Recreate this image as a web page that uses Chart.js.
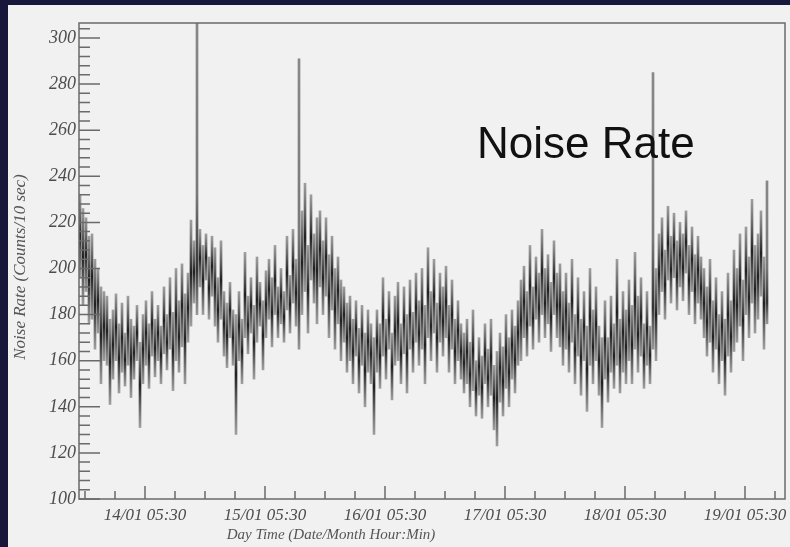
<!DOCTYPE html>
<html>
<head>
<meta charset="utf-8">
<script src="https://cdn.jsdelivr.net/npm/chart.js@4.4.1/dist/chart.umd.min.js"></script>
<style>
  html, body { margin: 0; padding: 0; background: #17173c; }
</style>
</head>
<body>
<canvas id="noiseChart" width="790" height="547"></canvas>
<script>
// hours are counted from 13/01 00:00, one bin every 36 min
const startHour = 16.5;
const binHours = 0.6;

// [low, high] extent of the error bars in each bin (counts / 10 sec)
const rateRanges = [
  [196, 232], [184, 226], [190, 222], [176, 214],
  [178, 215], [165, 204], [172, 200], [150, 192], [160, 190],
  [158, 188], [141, 178], [152, 182], [160, 189], [146, 176], [155, 185], [149, 172],
  [158, 188], [144, 178], [152, 175], [160, 184], [131, 168], [150, 180],
  [158, 186], [148, 176], [162, 190], [153, 178], [160, 184], [150, 175], [163, 192],
  [156, 180], [165, 196], [147, 181], [160, 200], [155, 186], [166, 202], [150, 189], [168, 198],
  [175, 221], [185, 212], [180, 310],
  [192, 217], [180, 210], [195, 215], [178, 205], [188, 214],
  [175, 209], [168, 196], [178, 212], [162, 190], [157, 185], [170, 194], [158, 182], [128, 180],
  [160, 190], [150, 178], [170, 207], [163, 188], [172, 196], [152, 184], [168, 205], [175, 194],
  [156, 186], [170, 199],
  [178, 204], [166, 196], [180, 210], [170, 192], [176, 200], [168, 190], [182, 214], [172, 197],
  [185, 217], [175, 204],
  [165, 291],
  [180, 225], [190, 237], [172, 210], [195, 232], [185, 215], [176, 222],
  [192, 225], [180, 212], [188, 222], [170, 206], [182, 214], [165, 200], [176, 205], [160, 195],
  [168, 192], [155, 185], [160, 188], [150, 178], [162, 186], [146, 174], [158, 184], [140, 172],
  [155, 182], [150, 176], [128, 170],
  [155, 182], [148, 176], [162, 196], [152, 178], [165, 190], [143, 172], [158, 188], [160, 194],
  [150, 176], [163, 192], [146, 180], [165, 195], [155, 181], [168, 198], [158, 186],
  [165, 200], [150, 184], [170, 209], [160, 190], [172, 204], [155, 185], [168, 198], [162, 192],
  [170, 201], [155, 184], [165, 195], [150, 178], [160, 186], [152, 176], [146, 172],
  [150, 178], [140, 168], [147, 182], [136, 160], [145, 170], [135, 162], [150, 176], [140, 165],
  [145, 178], [130, 158], [123, 164], [142, 172], [136, 166], [148, 180], [140, 170], [152, 182],
  [146, 175], [158, 186],
  [160, 195], [170, 201], [162, 190], [175, 210], [165, 192], [178, 205], [168, 198], [180, 217],
  [170, 200], [176, 206], [164, 194], [180, 212], [170, 198], [166, 202], [158, 190],
  [165, 198], [155, 185], [168, 204], [150, 180], [162, 196], [145, 178], [160, 190], [138, 175],
  [158, 200],
  [150, 182], [160, 192], [145, 175], [131, 170], [152, 186], [142, 170], [155, 188], [148, 176],
  [158, 204], [146, 178], [155, 190], [150, 182],
  [160, 195], [150, 184], [165, 207], [155, 188], [162, 196], [148, 176], [158, 190], [150, 175],
  [165, 285], [160, 200],
  [180, 215], [190, 222], [178, 208], [195, 227], [185, 214], [196, 224], [182, 212], [192, 220],
  [186, 215], [198, 225], [180, 210], [190, 218], [176, 206], [185, 214], [178, 205],
  [170, 200], [162, 192], [168, 204], [155, 186], [165, 196], [150, 180], [160, 190], [145, 178],
  [162, 198], [155, 186], [164, 208],
  [168, 200], [175, 215], [160, 195], [180, 218], [170, 205], [185, 230], [172, 210], [178, 215],
  [188, 225], [165, 205], [176, 238]
];

const xTickHours = [29.5, 53.5, 77.5, 101.5, 125.5, 149.5];
const xTickLabels = ["14/01 05:30", "15/01 05:30", "16/01 05:30", "17/01 05:30", "18/01 05:30", "19/01 05:30"];
const xMinorHours = [];
for (let h = 17.5; h < 157.5; h += 6) xMinorHours.push(h);
const yMinorValues = [];
for (let v = 100; v <= 304; v += 4) yMinorValues.push(v);

const xTitle = "Day Time (Date/Month Hour:Min)";
const yTitle = "Noise Rate (Counts/10 sec)";
const noteText = "Noise Rate";

const points = rateRanges.map((r, i) => ({ x: startHour + i * binHours, y: r }));

const serif = "'Liberation Serif', 'Times New Roman', serif";

// error bars look darker in the middle, where the neighbouring bins overlap;
// the few tall spikes stay a lighter grey above the band
function barShade(context) {
  const chart = context.chart;
  const raw = context.raw;
  if (!raw || !chart.scales.y) return "rgba(40,40,40,0.8)";
  const ys = chart.scales.y;
  const top = ys.getPixelForValue(raw.y[1]);
  const bottom = ys.getPixelForValue(raw.y[0]);
  if (!isFinite(top) || !isFinite(bottom) || top === bottom) return "rgba(40,40,40,0.8)";
  const g = chart.ctx.createLinearGradient(0, top, 0, bottom);
  if (raw.y[1] - raw.y[0] > 60) {
    g.addColorStop(0, "rgba(110,110,110,0.8)");
    g.addColorStop(0.6, "rgba(100,100,100,0.85)");
    g.addColorStop(0.85, "rgba(30,30,30,0.9)");
    g.addColorStop(1, "rgba(90,90,90,0.6)");
    return g;
  }
  g.addColorStop(0, "rgba(90,90,90,0.55)");
  g.addColorStop(0.5, "rgba(20,20,20,0.95)");
  g.addColorStop(1, "rgba(90,90,90,0.55)");
  return g;
}

const frameAndTicks = {
  id: "frameAndTicks",
  beforeDraw(chart) {
    const c = chart.ctx;
    c.save();
    c.fillStyle = "#17173c";
    c.fillRect(0, 0, chart.width, chart.height);
    c.fillStyle = "#f1f1f1";
    c.fillRect(8, 5, chart.width - 8, chart.height - 5);
    c.restore();
  },
  afterDraw(chart) {
    const c = chart.ctx;
    const area = chart.chartArea;
    const xs = chart.scales.x;
    const ys = chart.scales.y;
    c.save();
    c.strokeStyle = "#6a6a6a";
    c.lineWidth = 1.5;
    c.strokeRect(area.left, area.top, area.right - area.left, area.bottom - area.top);
    c.beginPath();
    xs.ticks.forEach(t => {
      const px = xs.getPixelForValue(t.value);
      const len = xTickHours.includes(t.value) ? 13 : 8;
      c.moveTo(px, area.bottom);
      c.lineTo(px, area.bottom - len);
    });
    ys.ticks.forEach(t => {
      const py = ys.getPixelForValue(t.value);
      const len = t.value % 20 === 0 ? 21 : 11;
      c.moveTo(area.left, py);
      c.lineTo(area.left + len, py);
    });
    c.stroke();

    c.fillStyle = "#555";
    c.textAlign = "center";
    c.font = "italic 15px " + serif;
    c.fillText(xTitle, 331, 539);
    c.translate(21, 267);
    c.rotate(-Math.PI / 2);
    c.textBaseline = "middle";
    c.font = "italic 17px " + serif;
    c.fillText(yTitle, 0, 0);
    c.restore();

    c.save();
    c.fillStyle = "#111";
    c.font = "44px 'Liberation Sans', Arial, sans-serif";
    c.fillText(noteText, 477, 158);
    c.restore();
  }
};

const ctx = document.getElementById("noiseChart");

new Chart(ctx, {
  type: "bar",
  data: {
    datasets: [
      {
        label: "Noise Rate",
        data: points,
        backgroundColor: barShade,
        borderWidth: 0,
        barThickness: 2,
        grouped: false
      }
    ]
  },
  options: {
    responsive: false,
    animation: false,
    layout: { padding: { top: 23, right: 5, left: 0, bottom: 0 } },
    plugins: { legend: { display: false }, tooltip: { enabled: false } },
    scales: {
      x: {
        type: "linear",
        min: 16.3,
        max: 157.5,
        offset: false,
        grid: { display: false, drawTicks: false, offset: false },
        border: { display: false },
        afterBuildTicks: s => { s.ticks = xMinorHours.map(v => ({ value: v })); },
        afterFit: s => { s.height = 48; },
        ticks: {
          autoSkip: false,
          maxRotation: 0,
          padding: 6,
          color: "#4d4d4d",
          font: { family: serif, style: "italic", size: 17 },
          callback: v => {
            const k = xTickHours.indexOf(v);
            return k >= 0 ? xTickLabels[k] : "";
          }
        }
      },
      y: {
        min: 100,
        max: 306.5,
        grid: { display: false, drawTicks: false },
        border: { display: false },
        afterBuildTicks: s => { s.ticks = yMinorValues.map(v => ({ value: v })); },
        afterFit: s => { s.width = 79; },
        ticks: {
          autoSkip: false,
          padding: 3,
          color: "#4d4d4d",
          font: { family: serif, style: "italic", size: 18 },
          callback: v => (v % 20 === 0 ? v : "")
        }
      }
    }
  },
  plugins: [frameAndTicks]
});
</script>
</body>
</html>
